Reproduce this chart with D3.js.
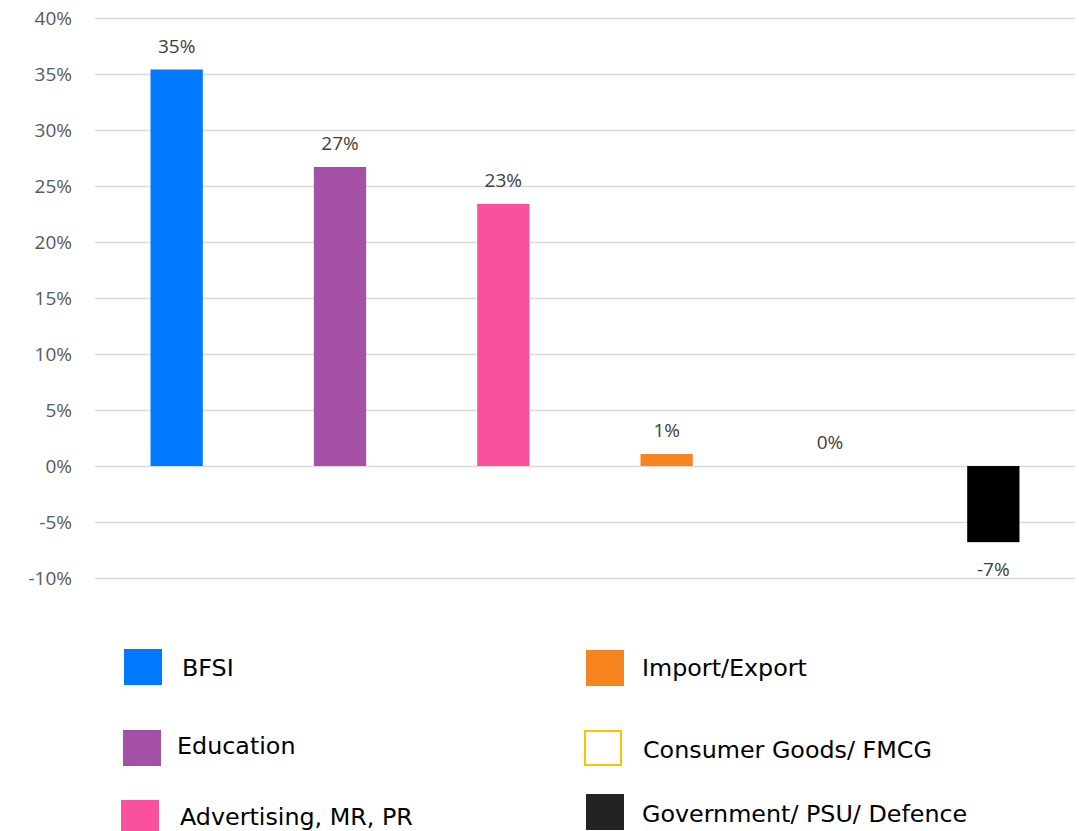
<!DOCTYPE html>
<html>
<head>
<meta charset="utf-8">
<script src="https://cdn.jsdelivr.net/npm/d3@7"></script>
<style>
	body { margin: 0; background: #fff; }
	.tick text { font-family: "Open Sans", sans-serif; font-size: 19px; fill: #595959; }
	.bar-label { font-family: "Open Sans", sans-serif; font-size: 19px; fill: #404040; text-anchor: middle; }
	.legend-label { font-family: "DejaVu Sans", sans-serif; font-size: 23.8px; fill: #000; }
</style>
</head>
<body>
<div id="wrapper"></div>
<script>

	// 1. Data

	const categories = ["BFSI", "Education", "Advertising, MR, PR", "Import/Export", "Consumer Goods/ FMCG", "Government/ PSU/ Defence"];
	const values = [35.4, 26.7, 23.4, 1.07, 0, -6.8];
	const barColors = ["#0079ff", "#a550a7", "#f9519d", "#f7851f", "#ffc000", "#000000"];
	const yTicks = [-10, -5, 0, 5, 10, 15, 20, 25, 30, 35, 40];

	// 2. Dimensions

	let dimensions = {
		width: 1079,
		height: 831,
		margin: {
			top: 18,
			right: 4,
			bottom: 253,
			left: 95
		}
	};

	dimensions.boundedWidth = dimensions.width - dimensions.margin.left - dimensions.margin.right;
	dimensions.boundedHeight = dimensions.height - dimensions.margin.top - dimensions.margin.bottom;

	const wrapper = d3.select("#wrapper")
						.append("svg")
						.attr("width", dimensions.width)
						.attr("height", dimensions.height);

	const bounds = wrapper.append("g")
							.attr("transform", `translate(${dimensions.margin.left}, ${dimensions.margin.top})`);

	// 3. Scales

	const xScale = d3.scaleBand()
						.domain(categories)
						.range([0, dimensions.boundedWidth])
						.paddingInner(0.68)
						.paddingOuter(0.34);

	const yScale = d3.scaleLinear()
						.domain([-10, 40])
						.range([dimensions.boundedHeight, 0]);

	// 4. Axis + grid

	const yAxis = d3.axisLeft(yScale)
					.tickValues(yTicks)
					.tickSize(-dimensions.boundedWidth)
					.tickPadding(23)
					.tickFormat(d => d + "%");

	const yAxisGroup = bounds.append("g").call(yAxis);
	yAxisGroup.select(".domain").remove();
	yAxisGroup.selectAll(".tick line")
				.attr("stroke", "#d9d9d9")
				.attr("stroke-width", 1.5);

	// 5. Bars

	bounds.selectAll(".bar")
			.data(values)
			.join("rect")
			.attr("class", "bar")
			.attr("x", (d, i) => xScale(categories[i]))
			.attr("width", xScale.bandwidth())
			.attr("y", d => yScale(Math.max(d, 0)))
			.attr("height", d => Math.abs(yScale(d) - yScale(0)))
			.attr("fill", (d, i) => barColors[i]);

	bounds.selectAll(".bar-label")
			.data(values)
			.join("text")
			.attr("class", "bar-label")
			.attr("x", (d, i) => xScale(categories[i]) + xScale.bandwidth() / 2)
			.attr("y", d => d >= 0 ? yScale(d) - 17 : yScale(d) + 34)
			.text(d => Math.round(d) + "%");

	// 6. Legend

	const legendItems = [
		{ x: 124, y: 649, tx: 182, ty: 676 },
		{ x: 123, y: 730, tx: 177, ty: 754 },
		{ x: 121, y: 800, tx: 180, ty: 825 },
		{ x: 586, y: 650, tx: 642, ty: 676 },
		{ x: 585, y: 731, tx: 643, ty: 758 },
		{ x: 586, y: 794, tx: 642, ty: 822 }
	];

	const legendGroup = wrapper.append("g");

	legendGroup.selectAll(".legend-swatch")
				.data(categories)
				.join("rect")
				.attr("class", "legend-swatch")
				.attr("x", (d, i) => legendItems[i].x)
				.attr("y", (d, i) => legendItems[i].y)
				.attr("width", (d, i) => values[i] == 0 ? 36 : 38)
				.attr("height", (d, i) => values[i] == 0 ? 34 : 36)
				.attr("fill", (d, i) => values[i] == 0 ? "#fff" : (i == 5 ? "#222" : barColors[i]))
				.attr("stroke", (d, i) => values[i] == 0 ? barColors[i] : "none")
				.attr("stroke-width", 2);

	legendGroup.selectAll(".legend-label")
				.data(categories)
				.join("text")
				.attr("class", "legend-label")
				.attr("x", (d, i) => legendItems[i].tx)
				.attr("y", (d, i) => legendItems[i].ty)
				.text(d => d);

</script>
</body>
</html>
